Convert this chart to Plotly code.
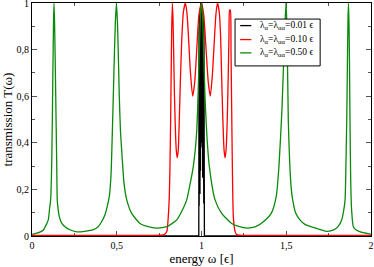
import plotly.graph_objects as go

# ---- data ----
black_w = [0.000, 0.984, 0.9855, 0.9862, 0.9870, 0.9878, 0.9886, 0.9894, 0.9902, 0.9910,
           0.9918, 0.9926, 0.9934, 0.9942, 0.9950, 0.9958, 0.9966, 0.9974, 0.9982, 0.9990,
           0.9998, 1.0006, 1.0014, 1.0022, 1.0030, 1.0038, 1.0046, 1.0054, 1.0062, 1.0070,
           1.0078, 1.0086, 1.0094, 1.0102, 1.0110, 1.0118, 1.0126, 1.0134, 1.0142, 1.0150,
           1.0156, 1.0172, 2.000]
black_T = [0.0, 0.0, 0.90, 0.13, 0.93, 0.20, 0.95, 0.32, 0.96, 0.18,
           0.97, 0.45, 0.98, 0.28, 0.99, 0.60, 1.00, 0.40, 1.00, 0.75,
           1.00, 0.55, 1.00, 0.70, 1.00, 0.38, 0.99, 0.58, 0.98, 0.25,
           0.97, 0.42, 0.96, 0.17, 0.95, 0.30, 0.94, 0.14, 0.92, 0.13,
           0.90, 0.0, 0.0]

red_w = [0.000, 0.700, 0.760, 0.780, 0.795, 0.804, 0.810, 0.814, 0.818, 0.821, 0.824, 0.828,
         0.832, 0.836, 0.840, 0.845, 0.851, 0.857, 0.863, 0.869, 0.876, 0.884, 0.893,
         0.905, 0.915, 0.925, 0.935, 0.948, 0.960, 0.972, 0.985, 1.000,
         1.013, 1.027, 1.040, 1.052, 1.065, 1.075, 1.085, 1.094, 1.105, 1.113,
         1.119, 1.126, 1.133, 1.139, 1.145, 1.152, 1.158, 1.162, 1.166, 1.170,
         1.174, 1.178, 1.182, 1.188, 1.198, 1.208, 1.225, 1.260, 1.300, 2.000]
red_T = [0.003, 0.003, 0.004, 0.006, 0.018, 0.083, 0.17, 0.30, 0.50, 0.70, 0.88, 1.00,
         0.93, 0.78, 0.62, 0.48, 0.37, 0.335, 0.37, 0.50, 0.68, 0.85, 0.96,
         1.00, 0.95, 0.83, 0.70, 0.60, 0.66, 0.80, 0.95, 1.00,
         0.95, 0.80, 0.66, 0.60, 0.70, 0.83, 0.95, 1.00, 0.96, 0.85,
         0.68, 0.50, 0.37, 0.335, 0.37, 0.50, 0.70, 0.86, 0.97, 0.97,
         0.80, 0.55, 0.30, 0.08, 0.02, 0.006, 0.004, 0.003, 0.003, 0.003]

green_w = [0.000, 0.028, 0.050, 0.067, 0.085, 0.096, 0.104, 0.110, 0.116, 0.120, 0.124,
           0.127, 0.130, 0.133, 0.137, 0.142, 0.146, 0.149, 0.155, 0.161, 0.175,
           0.195, 0.220, 0.264, 0.310, 0.362, 0.390, 0.410, 0.430, 0.445, 0.456,
           0.466, 0.476, 0.485, 0.492, 0.498, 0.505, 0.515, 0.522, 0.529, 0.543,
           0.559, 0.588, 0.637, 0.680, 0.735, 0.795, 0.854, 0.893, 0.913, 0.932,
           0.952, 0.971, 0.980, 0.988, 0.994, 1.000, 1.006, 1.012, 1.020, 1.031,
           1.046, 1.080, 1.119, 1.178, 1.220, 1.267, 1.320, 1.363, 1.412, 1.441,
           1.457, 1.475, 1.488, 1.498, 1.504, 1.512, 1.520, 1.530, 1.538, 1.555,
           1.581, 1.610, 1.660, 1.739, 1.780, 1.805, 1.827, 1.839, 1.847, 1.852,
           1.857, 1.861, 1.864, 1.867, 1.870, 1.873, 1.876, 1.880, 1.885, 1.896,
           1.915, 1.955, 2.000]
green_T = [0.007, 0.012, 0.018, 0.026, 0.050, 0.069, 0.120, 0.155, 0.30, 0.50, 0.75,
           0.92, 1.00, 0.92, 0.75, 0.50, 0.30, 0.155, 0.110, 0.083, 0.055,
           0.040, 0.028, 0.018, 0.020, 0.027, 0.040, 0.060, 0.090, 0.130, 0.170,
           0.26, 0.50, 0.75, 0.92, 1.00, 0.90, 0.60, 0.45, 0.37, 0.226,
           0.155, 0.097, 0.054, 0.041, 0.034, 0.040, 0.069, 0.120, 0.155, 0.22,
           0.30, 0.44, 0.61, 0.81, 0.95, 1.00, 0.95, 0.81, 0.61, 0.44,
           0.30, 0.155, 0.097, 0.054, 0.041, 0.034, 0.040, 0.060, 0.098, 0.170,
           0.30, 0.55, 0.82, 1.00, 0.90, 0.50, 0.32, 0.20, 0.155, 0.10,
           0.069, 0.050, 0.037, 0.020, 0.026, 0.040, 0.069, 0.110, 0.155, 0.30,
           0.50, 0.75, 0.92, 1.00, 0.92, 0.75, 0.50, 0.25, 0.120, 0.040,
           0.025, 0.014, 0.007]

series_names = ["λ<sub>α</sub>=λ<sub>αα</sub>=0.01 ϵ",
                "λ<sub>α</sub>=λ<sub>αα</sub>=0.10 ϵ",
                "λ<sub>α</sub>=λ<sub>αα</sub>=0.50 ϵ"]
series_colors = ["#000000", "#ff0000", "#0a8a0a"]
series_shapes = ["linear", "spline", "spline"]

x_tickvals = [0, 0.5, 1, 1.5, 2]
y_tickvals = [0, 0.2, 0.4, 0.6, 0.8, 1]

FONT = "Liberation Serif"

fig = go.Figure()
for w, T, name, col, shp in zip([black_w, red_w, green_w], [black_T, red_T, green_T],
                                series_names, series_colors, series_shapes):
    fig.add_trace(go.Scatter(x=w, y=T, mode="lines", name=name, showlegend=False,
                             line=dict(color=col, width=1.3, shape=shp, smoothing=0.6)))

# ---- legend box (paper coordinates), drawn above the traces ----
box_x0, box_x1, box_y0, box_y1 = 0.599, 0.850, 0.730, 0.931
entry_y = [0.903, 0.843, 0.786]
fig.add_shape(type="rect", xref="paper", yref="paper", x0=box_x0, x1=box_x1,
              y0=box_y0, y1=box_y1, fillcolor="white",
              line=dict(color="black", width=1), layer="above")
for yy, name, col in zip(entry_y, series_names, series_colors):
    fig.add_shape(type="line", xref="paper", yref="paper", x0=0.614, x1=0.647,
                  y0=yy, y1=yy, line=dict(color=col, width=1.3), layer="above")
    fig.add_annotation(xref="paper", yref="paper", x=0.666, y=yy, text=name,
                       showarrow=False, xanchor="left", yanchor="middle",
                       font=dict(family=FONT, size=9.5, color="black"))

axis_common = dict(showline=True, linecolor="black", linewidth=1, mirror="ticks",
                   ticks="inside", ticklen=5, tickcolor="#555", tickwidth=1,
                   showgrid=False, zeroline=False, layer="below traces",
                   automargin=False, ticklabeloverflow="allow",
                   tickfont=dict(family=FONT, size=10, color="black"))

fig.update_layout(
    width=374, height=267,
    margin=dict(l=32, r=3, t=3, b=31),
    paper_bgcolor="white", plot_bgcolor="white",
    separators=",.",
    showlegend=False,
    font=dict(family=FONT, color="black"),
    xaxis=dict(range=[0, 2], tickvals=x_tickvals,
               minor=dict(ticks="inside", ticklen=3, dtick=0.25, tick0=0, tickcolor="#555"),
               title=dict(text="energy ω [ϵ]", font=dict(family=FONT, size=13), standoff=2),
               **axis_common),
    yaxis=dict(range=[0, 1], tickvals=y_tickvals,
               minor=dict(ticks="inside", ticklen=3, dtick=0.1, tick0=0, tickcolor="#555"),
               title=dict(text="transmission T(ω)", font=dict(family=FONT, size=13), standoff=2),
               **axis_common),
)

fig.write_html("out.html", config={"displayModeBar": False},
               post_script="document.body.style.margin='0';document.body.style.padding='0';")
